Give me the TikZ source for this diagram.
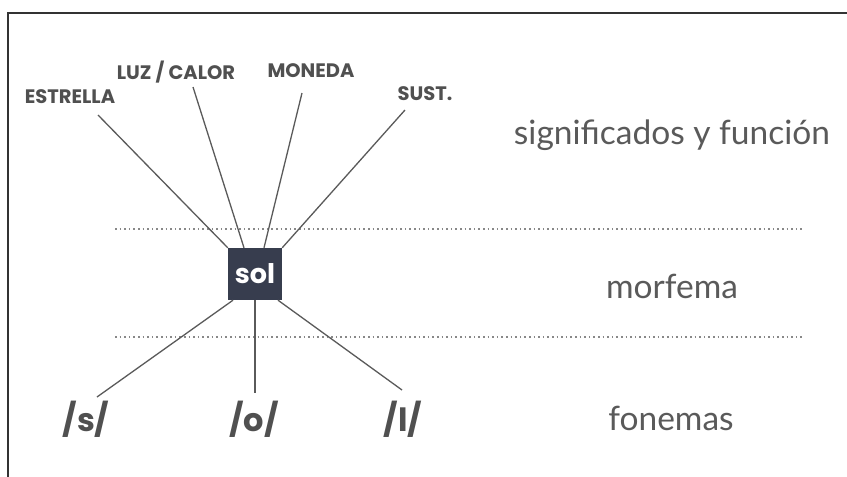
\documentclass[tikz,border=0pt]{standalone}
\usepackage{fontspec}
\setmainfont{Lato}
\newfontfamily\popb{Poppins}[UprightFont=* Bold]
\definecolor{txt}{HTML}{505050}
\definecolor{lightt}{HTML}{5A5A5A}
\definecolor{ln}{HTML}{5A5A5A}
\definecolor{dots}{HTML}{888888}
\definecolor{boxc}{HTML}{373D4E}
\begin{document}
\begin{tikzpicture}[x=1pt,y=-1pt,
  lbl/.style={font=\popb\fontsize{19.5}{19.5}\selectfont, text=txt, inner sep=0pt},
  fon/.style={font=\popb\fontsize{32}{32}\selectfont, text=txt, inner sep=0pt},
  lvl/.style={font=\fontsize{33.5}{33.5}\selectfont, text=lightt, inner sep=0pt},
  conn/.style={draw=ln, line width=1.3pt},
  dotl/.style={draw=dots, line width=1.6pt, dash pattern=on 1.6pt off 3pt}]
\useasboundingbox (0,0) rectangle (847,477);
\fill[white] (0,0) rectangle (847,477);
\draw[line width=1.3pt, black!80] (8,477) -- (8,13) -- (847,13);
% dotted separators
\coordinate (d1a) at (115,229); \coordinate (d1b) at (803,229);
\coordinate (d2a) at (115,337); \coordinate (d2b) at (803,337);
\draw[dotl] (d1a) -- (d1b);
\draw[dotl] (d2a) -- (d2b);
% morpheme box
\node[fill=boxc, minimum width=54pt, minimum height=52pt, inner sep=0pt,
  font=\popb\fontsize{27}{27}\selectfont, text=white] (sol) at (255,274) {sol};
% meaning labels
\node[lbl] (estrella) at (70,97) {ESTRELLA};
\node[lbl] (luz) at (176,72) {LUZ / CALOR};
\node[lbl] (moneda) at (311,71) {MONEDA};
\node[lbl] (sust) at (425,94) {SUST.};
\coordinate (eE) at (98,115);
\coordinate (eL) at (193,87);
\coordinate (eM) at (302,93);
\coordinate (eS) at (405,110);
\draw[conn] (eE) -- (sol.north west);
\draw[conn] (eL) -- ([xshift=-11pt]sol.north);
\draw[conn] (eM) -- ([xshift=9pt]sol.north);
\draw[conn] (eS) -- (sol.north east);
% phonemes
\node[fon] (s) at (86,419) {/s/};
\node[fon] (o) at (254,419) {/o/};
\node[fon] (l) at (403,419) {/l/};
\coordinate (fS) at (97,397);
\coordinate (fO) at (255,393);
\coordinate (fL) at (402,390);
\draw[conn] ([xshift=-22pt]sol.south) -- (fS);
\draw[conn] (sol.south) -- (fO);
\draw[conn] ([xshift=23pt]sol.south) -- (fL);
% level labels
\node[lvl] (sig) at (672,135) {significados y función};
\node[lvl] (morf) at (672,286) {morfema};
\node[lvl] (fonl) at (671,418) {fonemas};
\end{tikzpicture}
\end{document}
